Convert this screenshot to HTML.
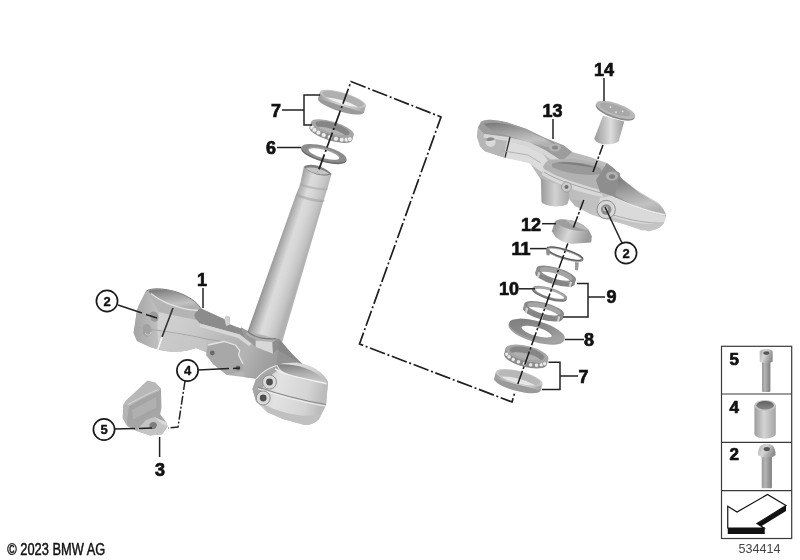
<!DOCTYPE html>
<html><head><meta charset="utf-8">
<style>
html,body{margin:0;padding:0;background:#fff;width:800px;height:560px;overflow:hidden}
svg{display:block;filter:blur(0.45px)}
.lb{font-family:"Liberation Sans",sans-serif;font-weight:bold;fill:#111}
</style></head><body>
<svg width="800" height="560" viewBox="0 0 800 560">
<defs>
<linearGradient id="gStem" gradientUnits="userSpaceOnUse" x1="274" y1="250" x2="304.5" y2="260">
<stop offset="0" stop-color="#8a8a8a"/><stop offset="0.12" stop-color="#a6a6a6"/><stop offset="0.42" stop-color="#dcdcdc"/><stop offset="0.6" stop-color="#d6d6d6"/><stop offset="0.85" stop-color="#c4c4c4"/><stop offset="1" stop-color="#b2b2b2"/>
</linearGradient>
<linearGradient id="gClamp" x1="0" y1="0" x2="1" y2="0.6">
<stop offset="0" stop-color="#bdbdbd"/><stop offset="0.3" stop-color="#cdcdcd"/><stop offset="0.6" stop-color="#b0b0b0"/><stop offset="1" stop-color="#c8c8c8"/>
</linearGradient>
<linearGradient id="gRClamp" x1="0" y1="0" x2="1" y2="0.2"><stop offset="0" stop-color="#b4b4b4"/><stop offset="0.4" stop-color="#e2e2e2"/><stop offset="0.8" stop-color="#d4d4d4"/><stop offset="1" stop-color="#bcbcbc"/></linearGradient>
<linearGradient id="gHole" x1="0" y1="0" x2="0.3" y2="1"><stop offset="0" stop-color="#777"/><stop offset="0.45" stop-color="#a4a4a4"/><stop offset="0.8" stop-color="#c2c2c2"/><stop offset="1" stop-color="#b0b0b0"/></linearGradient>
<linearGradient id="gBand" x1="0" y1="0" x2="1" y2="0">
<stop offset="0" stop-color="#8a8a8a"/><stop offset="0.5" stop-color="#d6d6d6"/><stop offset="1" stop-color="#9a9a9a"/>
</linearGradient>
<linearGradient id="gInner" x1="0" y1="0" x2="0" y2="1">
<stop offset="0" stop-color="#9a9a9a"/><stop offset="1" stop-color="#dedede"/>
</linearGradient>
<linearGradient id="gCone" x1="0" y1="0" x2="1" y2="0.2"><stop offset="0" stop-color="#8a8a8a"/><stop offset="0.5" stop-color="#d8d8d8"/><stop offset="1" stop-color="#9a9a9a"/></linearGradient>
<linearGradient id="gUpper" x1="0" y1="0" x2="1" y2="0.5"><stop offset="0" stop-color="#c0c0c0"/><stop offset="0.5" stop-color="#b8b8b8"/><stop offset="1" stop-color="#c8c8c8"/></linearGradient>
<linearGradient id="gBoss" x1="0" y1="0" x2="1" y2="0"><stop offset="0" stop-color="#9a9a9a"/><stop offset="0.5" stop-color="#d2d2d2"/><stop offset="1" stop-color="#a8a8a8"/></linearGradient>
<linearGradient id="gCap" x1="0" y1="0" x2="1" y2="0"><stop offset="0" stop-color="#9a9a9a"/><stop offset="0.55" stop-color="#dcdcdc"/><stop offset="1" stop-color="#9c9c9c"/></linearGradient>
<linearGradient id="gShank" x1="0" y1="0" x2="1" y2="0"><stop offset="0" stop-color="#9a9a9a"/><stop offset="0.35" stop-color="#b4b4b4"/><stop offset="1" stop-color="#7e7e7e"/></linearGradient>
<linearGradient id="gHead" x1="0" y1="0" x2="1" y2="0.4"><stop offset="0" stop-color="#a8a8a8"/><stop offset="0.45" stop-color="#d6d6d6"/><stop offset="1" stop-color="#8e8e8e"/></linearGradient>
<linearGradient id="gSleeve" x1="0" y1="0" x2="1" y2="0"><stop offset="0" stop-color="#9c9c9c"/><stop offset="0.45" stop-color="#d4d4d4"/><stop offset="1" stop-color="#a4a4a4"/></linearGradient>
<linearGradient id="gSlIn" x1="0" y1="0" x2="0" y2="1"><stop offset="0" stop-color="#606060"/><stop offset="1" stop-color="#8a8a8a"/></linearGradient>
<linearGradient id="gLFace" x1="0" y1="0" x2="1" y2="0"><stop offset="0" stop-color="#a4a4a4"/><stop offset="1" stop-color="#c2c2c2"/></linearGradient>
<linearGradient id="gFront" x1="0" y1="0" x2="1" y2="0.3"><stop offset="0" stop-color="#d4d4d4"/><stop offset="0.5" stop-color="#c8c8c8"/><stop offset="1" stop-color="#b2b2b2"/></linearGradient>
<linearGradient id="gHoleR" x1="0" y1="0" x2="0.2" y2="1"><stop offset="0" stop-color="#7e7e7e"/><stop offset="0.6" stop-color="#b0b0b0"/><stop offset="1" stop-color="#c4c4c4"/></linearGradient>
<linearGradient id="gWasher" x1="0" y1="0" x2="1" y2="0.5"><stop offset="0" stop-color="#7a7a7a"/><stop offset="0.6" stop-color="#8e8e8e"/><stop offset="1" stop-color="#a4a4a4"/></linearGradient>
<linearGradient id="gBand2" x1="0" y1="0" x2="1" y2="0"><stop offset="0" stop-color="#8e8e8e"/><stop offset="0.4" stop-color="#c4c4c4"/><stop offset="0.7" stop-color="#b4b4b4"/><stop offset="1" stop-color="#8a8a8a"/></linearGradient>
<linearGradient id="gBand3" x1="0" y1="0" x2="1" y2="0"><stop offset="0" stop-color="#9a9a9a"/><stop offset="0.45" stop-color="#dadada"/><stop offset="0.8" stop-color="#c0c0c0"/><stop offset="1" stop-color="#a2a2a2"/></linearGradient>
<linearGradient id="gUnder" x1="0" y1="0" x2="1" y2="0.3"><stop offset="0" stop-color="#b8b8b8"/><stop offset="0.5" stop-color="#a2a2a2"/><stop offset="1" stop-color="#929292"/></linearGradient>
</defs>

<path d="M303.8,167 L300,184.7 L295.7,195.4 L246,336 L281,346 L323.6,200.7 L327.9,186.8 L331.6,174 Z" fill="url(#gStem)"/>
<path d="M300,183 C308,186 320,189 328,188 L327.5,190 C319,191 307,188 299.5,185.5 Z" fill="#a0a0a0" opacity="0.45"/>
<path d="M296.5,193.5 C305,197 316,200 324.5,200 L324,202 C315,202.5 304,199.5 296,196 Z" fill="#9a9a9a" opacity="0.5"/>
<path d="M303.8,167 C307,163 322,164 331.6,174 C328,177 312,176 303.8,167 Z" fill="#7e7e7e"/>
<path d="M305.5,168 C310,166.5 322,167.5 329.5,174 C322,175.5 311,173.5 305.5,168 Z" fill="#c4c4c4"/>
<path d="M146,291 C150,288 160,288 175,292 C188,296 198,302 200,308 L224.6,319.3 L226.3,316 L229.5,317 L230,324.6 L240.7,328.4 L241.3,327.5 L247.5,331 L276.3,338.8 L278.8,338.8 L277.5,350 L297,362 C312,366 324,374 328,382 L326,405 L319,419 C315,423 310,425 305,425 L283,419 L267,412 L256,401 L252.5,389 L256,378.8 L243.6,377 L227,375 L213,364 L206,352 L196,348 C186,352 172,353 160,350 L150,347 L137,341 L133.6,333 L137,310 L139,305 Z" fill="#b4b4b4"/>
<path d="M146,291 L139,305 L137,310 L133.6,333 L137,341 L150,347 L160,350 C157,338 156,326 159,312 C155,304 150,297 146,291 Z" fill="url(#gLFace)"/>
<path d="M159,312 C175,316 188,318 197,320 L200,323.5 L240,334.5 L252,344 L244,352 L236,345 L224,341 L206,352 L196,348 C186,352 172,353 160,350 C157,338 156,326 159,312 Z" fill="url(#gFront)"/>
<path d="M148.5,291 C165,286 192,295 200,308 C192,312 176,309 162,302 C155,298 150,294 148.5,291 Z" fill="url(#gHole)"/>
<path d="M151,293.5 C160,301 178,309.5 198,310.5" fill="none" stroke="#e2e2e2" stroke-width="1.4"/>
<path d="M146.5,291 C152,288 162,288 175,291.5 C188,295.5 197,302 200.5,308" fill="none" stroke="#7a7a7a" stroke-width="1"/>
<path d="M200,308 L224.6,319.3 L226.3,316 L229.5,317 L230,324.6 L240.7,328.4 L241.3,327.5 L245,337.5 L252,344 L240,334.5 L200,323.5 L197,320 C193,317 194,313 198,310.5 Z" fill="#8c8c8c"/>
<path d="M200,323.5 L240,334.5 L252,344 L249,346 L238,338 L200,327 Z" fill="#d6d6d6"/>
<path d="M136,327 C160,331 186,334 206,339 L226,342" fill="none" stroke="#a4a4a4" stroke-width="1"/>
<path d="M160,331 C180,334 195,336 206,340 L206,352 L196,348 C186,352 172,353 160,350 Z" fill="#c6c6c6" opacity="0.6"/>
<path d="M150,313 C153,309.5 158.5,312 158.5,317.5 C158.5,322 154,323 151,320 Z" fill="#9a9a9a"/>
<path d="M143,326 C146,322 151.5,324.5 151.5,331 C151.5,337 146,338.5 143,334 Z" fill="#a2a2a2"/>
<path d="M145,333 C147,336 150,336 151,332" fill="none" stroke="#d8d8d8" stroke-width="1"/>
<path d="M173,308 L162,337" stroke="#333" stroke-width="1.6"/>
<path d="M162,337 L157.5,350.5" stroke="#f4f4f4" stroke-width="1.8"/>
<path d="M224.6,319.3 L226.3,315.5 L229.5,316.5 L230,324.6 L226,326 Z" fill="#d0d0d0"/>
<path d="M244,352 L252,344 L256,346.9 L273,353.75 L278,348.75 L297,362 C288,364 280,368 276.3,367.5 L266.3,370 L256.3,378.8 L243.6,377 L243,364 Z" fill="url(#gUnder)"/>
<path d="M241.3,327.5 L247.5,331 C252,336 262,339.4 262.5,339.4 L276.3,338.8 L278.8,338.8 L278,348.75 L273,353.75 L255.6,346.9 L245,337.5 Z" fill="#9a9a9a"/>
<path d="M247.5,331 C252,336 262,339.4 276.3,338.8 L277,341.5 C265,343.5 252,339.5 246,334 Z" fill="#b0b0b0"/>
<path d="M247.5,331 C252,336 262,339.4 276.3,338.8" fill="none" stroke="#7a7a7a" stroke-width="1.2"/>
<path d="M255.6,340.6 L272.5,341.9 L273,353.75 L255.6,346.9 Z" fill="#d8d8d8"/>
<path d="M272.5,341.9 L278.8,338.8 L278,348.75 L273,353.75 Z" fill="#8e8e8e"/>
<path d="M278.8,338.8 L277.5,350 L297,362 L305,366 C300,362 290,352 282,342 Z" fill="#888"/>
<path d="M277.5,350 L297,362 C288,364 282,366 276.3,367.5 L278,348.75 Z" fill="#939393"/>
<path d="M276.3,365.5 C285,361 305,362 316,369 C322,373 326,377 328,382 L326,405 L319,419 C315,423 310,425 305,425 L283,419 L267,412 L256,401 L252.5,389 L256.3,378.8 C262,372 270,367.5 276.3,365.5 Z" fill="url(#gRClamp)"/>
<path d="M256.3,378.8 C262,372 270,367.5 276.3,365.5 L279,370 C271,374 265,380 262,390 L256,401 L252.5,389 Z" fill="#a6a6a6"/>
<path d="M256.3,378.8 C262,372 270,367.5 276.3,365.5" fill="none" stroke="#e6e6e6" stroke-width="1.2"/>
<path d="M277.6,364.6 C290,363 312,366 327.6,382.6 C316,383 300,380 290,375.5 C284,373 279,370 277.6,364.6 Z" fill="url(#gHoleR)"/>
<path d="M275,368.8 C282,373 292,376.3 305,379 C315,381 322,382.5 326.5,383.7" fill="none" stroke="#f0f0f0" stroke-width="1.5"/>
<path d="M258,387 C275,393 300,400 326,404.5" fill="none" stroke="#8a8a8a" stroke-width="1.2"/>
<path d="M258,388.7 C275,394.7 300,401.7 326,406.2" fill="none" stroke="#f0f0f0" stroke-width="1"/>
<path d="M262,404 C282,413 302,418 321,415 L319,419 C315,423 310,425 305,425 L283,419 L267,412 Z" fill="#c0c0c0"/>
<circle cx="269.5" cy="382" r="7" fill="#dadada" stroke="#8a8a8a" stroke-width="0.9"/><circle cx="269.5" cy="382" r="3.4" fill="#505050"/>
<circle cx="263.2" cy="398" r="7" fill="#dadada" stroke="#8a8a8a" stroke-width="0.9"/><circle cx="263.2" cy="398" r="3.4" fill="#505050"/>
<path d="M208,345 L224,341.5 L235.4,345 L239.7,350.4 L238.6,355 L243,364 L243,371 L227,375 L213,364 L206,355 Z" fill="#a8a8a8"/>
<path d="M208,345 L224,341.5 L235.4,345 L239.7,350.4 L238.6,355 L243,364" fill="none" stroke="#e4e4e4" stroke-width="1.3"/>
<circle cx="212.3" cy="353" r="2.4" fill="#6a6a6a"/>
<circle cx="238" cy="368" r="2.4" fill="#6a6a6a"/>
<g transform="translate(324.1,153.3) rotate(16)"><clipPath id="c1"><ellipse cx="0" cy="0" rx="16.38" ry="4.97"/></clipPath><ellipse cx="0" cy="1.5" rx="23.4" ry="7.1" fill="#6a6a6a"/><rect x="-23.4" y="0" width="46.8" height="1.5" fill="#7a7a7a"/><ellipse cx="0" cy="0" rx="23.4" ry="7.1" fill="#8c8c8c"/><ellipse cx="0" cy="0" rx="16.38" ry="4.97" fill="#a0a0a0"/><g clip-path="url(#c1)"><ellipse cx="0" cy="1.5" rx="16.38" ry="4.97" fill="#fff"/></g></g>
<g transform="translate(332.5,128.3) rotate(17)"><clipPath id="c2"><ellipse cx="0" cy="0" rx="17.76" ry="5.20"/></clipPath><ellipse cx="0" cy="6" rx="22.2" ry="6.5" fill="#8a8a8a"/><rect x="-22.2" y="0" width="44.4" height="6" fill="url(#gBand)"/><ellipse cx="0" cy="0" rx="22.2" ry="6.5" fill="#a6a6a6"/><ellipse cx="0" cy="0" rx="17.76" ry="5.20" fill="#858585"/><g clip-path="url(#c2)"><ellipse cx="0" cy="6" rx="17.76" ry="5.20" fill="#b4b4b4"/></g><circle cx="-19.7" cy="5.2" r="2.4" fill="#ececec" stroke="#8a8a8a" stroke-width="0.5"/><circle cx="-16.7" cy="6.8" r="2.4" fill="#ececec" stroke="#8a8a8a" stroke-width="0.5"/><circle cx="-12.2" cy="8.2" r="2.4" fill="#ececec" stroke="#8a8a8a" stroke-width="0.5"/><circle cx="-6.4" cy="9.0" r="2.4" fill="#ececec" stroke="#8a8a8a" stroke-width="0.5"/><circle cx="-0.0" cy="9.3" r="2.4" fill="#ececec" stroke="#8a8a8a" stroke-width="0.5"/><circle cx="6.4" cy="9.0" r="2.4" fill="#ececec" stroke="#8a8a8a" stroke-width="0.5"/><circle cx="12.2" cy="8.2" r="2.4" fill="#ececec" stroke="#8a8a8a" stroke-width="0.5"/><circle cx="16.7" cy="6.8" r="2.4" fill="#ececec" stroke="#8a8a8a" stroke-width="0.5"/><circle cx="19.7" cy="5.2" r="2.4" fill="#ececec" stroke="#8a8a8a" stroke-width="0.5"/></g>
<g transform="translate(343,98.8) rotate(17)"><clipPath id="c3"><ellipse cx="0" cy="0" rx="21.60" ry="5.40"/></clipPath><ellipse cx="0" cy="7" rx="24" ry="6.0" fill="#9a9a9a"/><rect x="-24" y="0" width="48" height="7" fill="url(#gBand3)"/><ellipse cx="0" cy="0" rx="24" ry="6.0" fill="#c8c8c8"/><ellipse cx="0" cy="0" rx="21.60" ry="5.40" fill="#b0b0b0"/><g clip-path="url(#c3)"><ellipse cx="0" cy="7" rx="21.60" ry="5.40" fill="#eeeeee"/></g></g>
<path d="M318,172 L351,81.5 L441,117 L359.5,344 L512,402 L515,392" fill="none" stroke="#1e1e1e" stroke-width="1.7" stroke-dasharray="16,2.65,2,2.65" stroke-dashoffset="20.5"/>
<path d="M147.5,380.7 L155.5,382.7 L160.9,388.7 L161.5,407.5 L160.2,414.2 L166.2,422.2 L167.6,426.2 L162.2,434.3 L150.2,435.6 L136.8,430.9 L127.4,426.2 L122.7,418.2 L123.4,404.8 L126,400.8 Z" fill="#a6a6a6"/>
<path d="M147.5,380.7 L155.5,382.7 L160.9,388.7 L158,391.5 C150,395 138,401 129,406.5 L123.4,404.8 L126,400.8 Z" fill="#b8b8b8"/>
<path d="M128,404.5 C138,399 150,392.5 158.5,389.5" fill="none" stroke="#d0d0d0" stroke-width="1.3"/>
<path d="M129,406.5 C138,401 150,395 158,391.5 L159,409 C150,414 140,420 131,424 L127,420 Z" fill="#a4a4a4"/>
<path d="M132,410 C140,405.5 150,400 156,397 L156.5,407.5 C148,411.5 140,416 133,419.5 Z" fill="#b0b0b0"/>
<path d="M123.4,404.8 L129,406.5 L127,420 L127.4,426.2 L122.7,418.2 Z" fill="#b4b4b4"/>
<path d="M136.8,430.9 L150.2,435.6 L162.2,434.3 L167.6,426.2 L166.2,422.2 L154.2,416.9 L146,420 C142,424 139,428 136.8,430.9 Z" fill="#c4c4c4"/>
<path d="M154.2,416.9 L166.2,422.2 L167.6,426.2 L162,424 Z" fill="#d8d8d8"/>
<path d="M149.5,424.5 C151.5,421 156.5,421.5 157,425 C156.5,429.5 151,430.5 149.5,427.5 Z" fill="#7e7e7e"/>

<path d="M481,122 C484,119 492,118.5 507.5,122.5 L526,128.8 L545,138 L563.8,145.6 L572,152 L590,157 L606.8,163 L614.7,169 L622,178.8 L638.2,191 L657.9,202.7 C663,207 666,212 665.7,217 C665,223 660,228 655.9,229.2 L642.2,230.6 L618.6,222.3 L602.9,218.4 L590,214 L575,206 L569.5,199 L567,204 C562,207 548,207 542,203 L541,180 L528.7,161.2 L503.7,157.5 L485,151.2 L480,146.2 L476.9,136.2 L478,127.5 Z" fill="url(#gUpper)"/>
<path d="M481,122 C484,119 492,118.5 507.5,122.5 L526,128.8 L545,138 L563.8,145.6 L572,152 L562,161 L545,150 L528.7,142 L507.5,137 L484,134 L478,127.5 Z" fill="#9c9c9c"/>
<path d="M484,124 C495,121 510,124 526,130 L545,139 L560,148 C548,149 530,143 512,137 C500,133 490,131 484,124 Z" fill="url(#gHole)"/>
<path d="M484,134 L507.5,137 L528.7,142 L545,150 L562,161 L558,165 L543,154 L527,146 L507,141 L483,137.5 Z" fill="#d6d6d6"/>
<path d="M478,127.5 L476.9,136.2 L480,146.2 L485,151.2 L503.7,157.5 L507,141 L483,137.5 L484,134 Z" fill="#b6b6b6"/>
<circle cx="490.6" cy="142" r="5" fill="#dadada"/>
<path d="M486,140.5 C487,137 492.5,136 495,139.5 C492,141 489,141.5 486,140.5 Z" fill="#8a8a8a"/>
<path d="M507,141 L527,146 L543,154 L549,162 L541.5,172 L528.7,163 L503.7,157.5 Z" fill="#dcdcdc"/>
<path d="M510,137 L505,157.5" stroke="#333" stroke-width="1.3"/>
<path d="M503.7,151 L528,155 L541,163" fill="none" stroke="#a8a8a8" stroke-width="0.8"/>
<ellipse cx="555" cy="147.5" rx="6" ry="4" fill="#b4b4b4"/><ellipse cx="555" cy="147.5" rx="3" ry="2" fill="#8a8a8a"/>
<path d="M543,166.8 C545,162 548,160 552,159.5 L575.2,158.7 L595.2,162.8 L610,169.5 L622,178.8 L612,188 L600,191 L580,186 L560,180 L545,173 Z" fill="#b2b2b2"/>
<path d="M552,163.4 C562,160 585,162 600,168 C604,172 601,175 592.6,175 C575,175 560,171 552,167 Z" fill="#999"/>
<path d="M556,163 C566,161 585,163 597,168 C590,167 570,164 556,163 Z" fill="#7e7e7e"/>
<ellipse cx="615.3" cy="174.8" rx="5" ry="3.5" fill="#9a9a9a"/>
<path d="M543,168 C555,177 580,184 600,190 L603,197 C580,193 556,184 542,175 Z" fill="#d8d8d8"/>
<path d="M544,172 C556,180 580,187 601,193" fill="none" stroke="#9c9c9c" stroke-width="0.8"/>
<path d="M541,178 L541.5,202 C547,207 562,207.5 567.5,204 L569,197 L569,186 C560,185 548,182 541,178 Z" fill="url(#gBoss)"/>
<circle cx="566.5" cy="187" r="5" fill="#cacaca" stroke="#999" stroke-width="0.8"/><circle cx="566.5" cy="187" r="2" fill="#6e6e6e"/>
<path d="M606.8,163 L614.7,169 L622,178.8 L640,193.75 L660,206.25 C664,210 665.6,213 665.6,216.25 C650,214 630,205 612,196 L600,192 L596,180 Z" fill="#8e8e8e"/>
<path d="M618.75,177.5 L640,193.75 L660,206.25 C664,210 665.6,213 665.6,216.25 C652,214 632,206 615,195 Z" fill="url(#gHole)"/>
<path d="M616,198.75 C630,205 650,212 665,215" fill="none" stroke="#ececec" stroke-width="1.6"/>
<ellipse cx="612" cy="176" rx="6" ry="4.5" fill="#b0b0b0"/><ellipse cx="612" cy="176.5" rx="3" ry="2.2" fill="#7e7e7e"/>
<path d="M600,198 L612,196 C630,206 650,213 665.6,216.25 C665,223 660,228 655.9,229.2 L648.75,231.25 L627.5,225 L608.75,220 L597.5,211.25 Z" fill="#dadada"/>
<path d="M613,215 C630,220 650,224 664,223" fill="none" stroke="#a4a4a4" stroke-width="0.9"/>
<path d="M608.75,220 L627.5,225 L648.75,231.25 L655.9,229.2 C660,228 663,225 663.75,222.5 C650,226 630,223 610,216 Z" fill="#c4c4c4"/>
<circle cx="606.2" cy="209.5" r="9.2" fill="#d6d6d6" stroke="#8e8e8e" stroke-width="1"/>
<circle cx="606.2" cy="209.5" r="5.2" fill="#8a8a8a"/>
<circle cx="605.5" cy="208.8" r="2.6" fill="#bdbdbd"/>
<path d="M569.5,199 L575,206 L582,208 L583,201 Z" fill="#b6b6b6"/>
<path d="M603,115.7 L594.3,138.6 C596,143.5 603,145 607,144.3 C612,144 617,143 618.6,141.4 L624.3,121.4 Z" fill="url(#gCap)"/>
<g transform="translate(615.7,110) rotate(19)">
<ellipse cx="0" cy="1.5" rx="20.5" ry="6.8" fill="#8a8a8a"/>
<ellipse cx="0" cy="0" rx="20.5" ry="6.6" fill="#b8b8b8"/>
<ellipse cx="-1" cy="-0.3" rx="16" ry="4.6" fill="#a8a8a8"/>
<circle cx="-6" cy="-1" r="0.9" fill="#e4e4e4"/><circle cx="7" cy="-1" r="0.9" fill="#e4e4e4"/><circle cx="1" cy="2" r="0.9" fill="#e4e4e4"/>
</g>
<g transform="translate(519.2,377.7) rotate(14.5)"><clipPath id="c4"><ellipse cx="0" cy="0" rx="21.60" ry="5.94"/></clipPath><ellipse cx="0" cy="7" rx="24" ry="6.6" fill="#9a9a9a"/><rect x="-24" y="0" width="48" height="7" fill="url(#gBand3)"/><ellipse cx="0" cy="0" rx="24" ry="6.6" fill="#c8c8c8"/><ellipse cx="0" cy="0" rx="21.60" ry="5.94" fill="#b8b8b8"/><g clip-path="url(#c4)"><ellipse cx="0" cy="7" rx="21.60" ry="5.94" fill="#e6e6e6"/></g></g>
<g transform="translate(527,353.6) rotate(14)"><clipPath id="c5"><ellipse cx="0" cy="0" rx="17.60" ry="6.00"/></clipPath><ellipse cx="0" cy="6" rx="22" ry="7.5" fill="#8a8a8a"/><rect x="-22" y="0" width="44" height="6" fill="url(#gBand)"/><ellipse cx="0" cy="0" rx="22" ry="7.5" fill="#a6a6a6"/><ellipse cx="0" cy="0" rx="17.60" ry="6.00" fill="#858585"/><g clip-path="url(#c5)"><ellipse cx="0" cy="6" rx="17.60" ry="6.00" fill="#b0b0b0"/></g><circle cx="-19.5" cy="5.5" r="2.0" fill="#ececec" stroke="#8a8a8a" stroke-width="0.5"/><circle cx="-16.6" cy="7.4" r="2.0" fill="#ececec" stroke="#8a8a8a" stroke-width="0.5"/><circle cx="-12.0" cy="9.0" r="2.0" fill="#ececec" stroke="#8a8a8a" stroke-width="0.5"/><circle cx="-6.3" cy="10.0" r="2.0" fill="#ececec" stroke="#8a8a8a" stroke-width="0.5"/><circle cx="-0.0" cy="10.3" r="2.0" fill="#ececec" stroke="#8a8a8a" stroke-width="0.5"/><circle cx="6.3" cy="10.0" r="2.0" fill="#ececec" stroke="#8a8a8a" stroke-width="0.5"/><circle cx="12.0" cy="9.0" r="2.0" fill="#ececec" stroke="#8a8a8a" stroke-width="0.5"/><circle cx="16.6" cy="7.4" r="2.0" fill="#ececec" stroke="#8a8a8a" stroke-width="0.5"/><circle cx="19.5" cy="5.5" r="2.0" fill="#ececec" stroke="#8a8a8a" stroke-width="0.5"/></g>
<g transform="translate(536.9,330.7) rotate(16)"><clipPath id="c6"><ellipse cx="0" cy="0" rx="16.18" ry="5.29"/></clipPath><ellipse cx="0" cy="2" rx="28.9" ry="9.45" fill="#a0a0a0"/><rect x="-28.9" y="0" width="57.8" height="2" fill="#a8a8a8"/><ellipse cx="0" cy="0" rx="28.9" ry="9.45" fill="url(#gWasher)"/><ellipse cx="0" cy="0" rx="16.18" ry="5.29" fill="#8a8a8a"/><g clip-path="url(#c6)"><ellipse cx="0" cy="2" rx="16.18" ry="5.29" fill="#fff"/></g></g>
<g transform="translate(544.2,308.8) rotate(15)"><clipPath id="c7"><ellipse cx="0" cy="0" rx="17.22" ry="5.04"/></clipPath><ellipse cx="0" cy="5" rx="20.5" ry="6.0" fill="#858585"/><rect x="-20.5" y="0" width="41.0" height="5" fill="url(#gBand2)"/><ellipse cx="0" cy="0" rx="20.5" ry="6.0" fill="#8a8a8a"/><ellipse cx="0" cy="0" rx="17.22" ry="5.04" fill="#a4a4a4"/><g clip-path="url(#c7)"><ellipse cx="0" cy="5" rx="17.22" ry="5.04" fill="#fff"/></g><rect x="-17.8" y="3.5" width="2.4" height="5" fill="#e0e0e0" opacity="0.8"/><rect x="-15.4" y="3.5" width="0.8" height="5" fill="#777" opacity="0.8"/><rect x="-1.2" y="6.0" width="2.4" height="5" fill="#e0e0e0" opacity="0.8"/><rect x="1.2" y="6.0" width="0.8" height="5" fill="#777" opacity="0.8"/><rect x="15.4" y="3.5" width="2.4" height="5" fill="#e0e0e0" opacity="0.8"/><rect x="17.8" y="3.5" width="0.8" height="5" fill="#777" opacity="0.8"/></g>
<g transform="translate(550,292.8) rotate(17)"><clipPath id="c8"><ellipse cx="0" cy="0" rx="15.48" ry="4.21"/></clipPath><ellipse cx="0" cy="2" rx="18" ry="4.9" fill="#777"/><rect x="-18" y="0" width="36" height="2" fill="#999"/><ellipse cx="0" cy="0" rx="18" ry="4.9" fill="#9a9a9a"/><ellipse cx="0" cy="0" rx="15.48" ry="4.21" fill="#aaa"/><g clip-path="url(#c8)"><ellipse cx="0" cy="2" rx="15.48" ry="4.21" fill="#fff"/></g></g>
<g transform="translate(556.3,273.8) rotate(16.7)"><clipPath id="c9"><ellipse cx="0" cy="0" rx="17.22" ry="5.04"/></clipPath><ellipse cx="0" cy="5" rx="20.5" ry="6.0" fill="#858585"/><rect x="-20.5" y="0" width="41.0" height="5" fill="url(#gBand2)"/><ellipse cx="0" cy="0" rx="20.5" ry="6.0" fill="#8a8a8a"/><ellipse cx="0" cy="0" rx="17.22" ry="5.04" fill="#a4a4a4"/><g clip-path="url(#c9)"><ellipse cx="0" cy="5" rx="17.22" ry="5.04" fill="#fff"/></g><rect x="-17.8" y="3.5" width="2.4" height="5" fill="#e0e0e0" opacity="0.8"/><rect x="-15.4" y="3.5" width="0.8" height="5" fill="#777" opacity="0.8"/><rect x="-1.2" y="6.0" width="2.4" height="5" fill="#e0e0e0" opacity="0.8"/><rect x="1.2" y="6.0" width="0.8" height="5" fill="#777" opacity="0.8"/><rect x="15.4" y="3.5" width="2.4" height="5" fill="#e0e0e0" opacity="0.8"/><rect x="17.8" y="3.5" width="0.8" height="5" fill="#777" opacity="0.8"/></g>
<g transform="translate(564.7,254) rotate(17)"><ellipse cx="0" cy="0" rx="18.5" ry="4.2" fill="none" stroke="#5e5e5e" stroke-width="2"/><ellipse cx="0" cy="0.9" rx="18.5" ry="4.2" fill="none" stroke="#b4b4b4" stroke-width="0.7"/></g><path d="M546,249 L550,249.5 L549.5,255.5 L546.5,255 Z" fill="#8e8e8e"/><path d="M575,262 L578.8,262.5 L578,270.5 L575,270 Z" fill="#9a9a9a"/>
<path d="M555,221.3 L551.9,231.2 L555,236.2 C560,241 567,243.5 572.5,243.8 L591.2,242.5 L591.9,236.2 L588.7,230 Z" fill="url(#gCone)"/>
<path d="M555,221.3 C558,219 562,219 565,219.4 C575,220 584,224 588.7,230 C580,233 562,229 555,221.3 Z" fill="#9e9e9e"/>
<path d="M565,219.4 C575,220 584,224 588.7,230 C582,230 572,226 565,219.4 Z" fill="#b8b8b8"/>
<path d="M573.4,227 L567.5,244" stroke="#1a1a1a" stroke-width="0"/>
<path d="M517.8,384 L567.8,243.5" fill="none" stroke="#1a1a1a" stroke-width="1.5" stroke-dasharray="14,2,2.5,2"/>
<path d="M573.4,227.5 L583.8,200 M593,172 L603,145" fill="none" stroke="#1a1a1a" stroke-width="1.5" stroke-dasharray="12,2,2.5,2"/>
<g stroke="#222" stroke-width="1.5" fill="none">
<path d="M282,110 L304,110 M320,95 L304,95 L304,125 L312,125"/>
<path d="M277,147.5 L301,147.5"/>
<path d="M203,288 L203,308"/>
<path d="M118,305 L142,313 M146,314.5 L157,318"/>
<path d="M198,370 L229,368.5 M233,368.4 L240,368"/>
<path d="M114,429 L135,428.6 M139,428.5 L152,428"/>
<path d="M159.6,437 L159.6,457"/>
<path d="M553,119 L553,139"/>
<path d="M604,78 L604,101"/>
<path d="M542,223.7 L556,223.7"/>
<path d="M530,248.6 L546,248.6"/>
<path d="M519,288.8 L535,288.8"/>
<path d="M577,283.5 L588,283.5 L588,317 L563,317 M588,297 L605,297"/>
<path d="M565,339.5 L584,339.5"/>
<path d="M548.5,362.3 L560,362.3 L560,389.6 L542,389.6 M560,375.9 L578,375.9"/>
<path d="M622,243 L605,207"/>
</g>
<path d="M185,381 L178,427 L168,428" fill="none" stroke="#222" stroke-width="1.5" stroke-dasharray="9,2,2,2"/>
<g stroke="#1a1a1a" stroke-width="1.7" fill="#fff">
<circle cx="107" cy="301" r="10.6"/>
<circle cx="187.5" cy="370.5" r="10.6"/>
<circle cx="104" cy="429.5" r="10.6"/>
<circle cx="626" cy="253" r="10.6"/>
</g>
<g class="lb" font-size="13" text-anchor="middle" stroke="#111" stroke-width="0.4">
<text x="107" y="305.8">2</text>
<text x="187.5" y="375.3">4</text>
<text x="104" y="434.3">5</text>
<text x="626" y="257.8">2</text>
</g>
<g class="lb" font-size="18" stroke="#111" stroke-width="0.7">
<text x="271" y="116.6">7</text>
<text x="266" y="153.6">6</text>
<text x="197" y="285.6">1</text>
<text x="155" y="475.6">3</text>
<text x="542.5" y="116.8">13</text>
<text x="594" y="75.8">14</text>
<text x="521" y="230.6">12</text>
<text x="511.5" y="255.4">11</text>
<text x="499" y="295.4">10</text>
<text x="606.5" y="303.2">9</text>
<text x="584" y="346.4">8</text>
<text x="578.5" y="382.6">7</text>
</g>
<g fill="none" stroke="#3a3a3a" stroke-width="1.2">
<rect x="721.5" y="346.3" width="70.2" height="192.2"/>
<path d="M721.5,394 H791.7 M721.5,442.3 H791.7 M721.5,490.6 H791.7"/>
</g>
<g class="lb" font-size="17" stroke="#111" stroke-width="0.7">
<text x="729.5" y="365">5</text>
<text x="729.5" y="413">4</text>
<text x="729.5" y="460">2</text>
</g>
<rect x="762" y="360" width="8.4" height="31.9" rx="1" fill="url(#gShank)"/>
<path d="M759.7,352 C759.7,348 772.7,348 772.7,352 L772.7,361.5 C770,363.5 762,363.5 759.7,361.5 Z" fill="url(#gHead)"/>
<ellipse cx="766.3" cy="353" rx="3" ry="1.8" fill="#555"/>
<path d="M754.4,405 L754.4,434 C756,440 774,440 775.8,434 L775.8,405 Z" fill="url(#gSleeve)"/>
<ellipse cx="765.1" cy="405.5" rx="10.7" ry="5.6" fill="#c4c4c4"/>
<ellipse cx="765.1" cy="405.3" rx="8.7" ry="4.3" fill="url(#gSlIn)"/>
<rect x="761.7" y="455" width="10.2" height="33.3" rx="1" fill="url(#gShank)"/>
<path d="M758,455 C758,446 762,443.7 766.8,443.7 C771.5,443.7 775.6,446 775.6,455 C773,458.5 760.5,458.5 758,455 Z" fill="url(#gHead)"/>
<ellipse cx="766.8" cy="449" rx="3.2" ry="2" fill="#555"/>
<path d="M757,523.5 L786,505.5 L786,511 L760,527 Z" fill="#111"/>
<rect x="727.75" y="527.5" width="37" height="6.5" fill="#111"/>
<path d="M727.75,506.25 L737,512 L767.5,494.5 L786,505.5 L757,523.5 L764,528 L727.75,528 Z" fill="#fff" stroke="#111" stroke-width="1.2"/>
<text x="738.5" y="552.5" font-family="Liberation Sans, sans-serif" font-size="13" fill="#444" textLength="42" lengthAdjust="spacingAndGlyphs">534414</text>
<text x="7.3" y="555" font-family="Liberation Sans, sans-serif" font-size="16" fill="#111" stroke="#111" stroke-width="0.45" textLength="98" lengthAdjust="spacingAndGlyphs">© 2023 BMW AG</text>
</svg>
</body></html>
